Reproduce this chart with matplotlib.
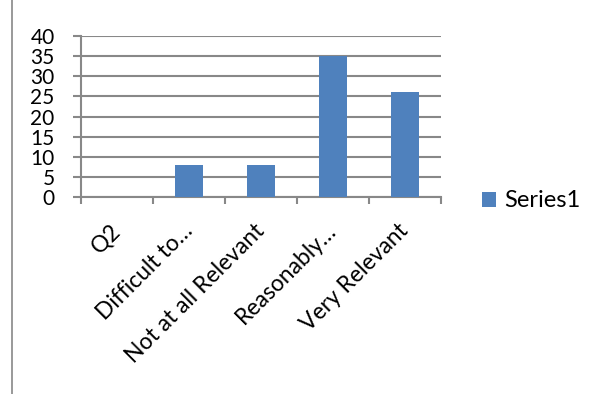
import numpy as np
import matplotlib.pyplot as plt
from matplotlib.lines import Line2D

categories = ['Q2', 'Difficult to…', 'Not at all Relevant', 'Reasonably…', 'Very Relevant']
values = [0, 8, 8, 35, 26]
series_name = 'Series1'

plt.rcParams['font.family'] = ['Lato', 'DejaVu Sans']

fig = plt.figure(figsize=(6.06, 3.94), dpi=100)
ax = fig.add_axes([0.1337, 0.5, 0.594, 0.4086])

x = np.arange(len(categories))
ax.bar(x, values, width=0.4, color='#4F81BD', label=series_name, zorder=3)

ax.set_xlim(-0.5, len(categories) - 0.5)
ax.set_ylim(0, 40)
ax.set_yticks(np.arange(0, 41, 5))
ax.yaxis.grid(True, color='#888888', linewidth=1.5)
ax.set_axisbelow(True)

# category labels at centres, tick marks at boundaries
ax.set_xticks(x)
ax.set_xticklabels(categories, rotation=45, ha='right', va='center', rotation_mode='anchor')
ax.tick_params(axis='x', which='major', length=0, pad=22, labelsize=16.5)
ax.set_xticks(np.arange(len(categories) + 1) - 0.5, minor=True)
ax.tick_params(axis='x', which='minor', length=5, color='#888888', width=1.5)
ax.tick_params(axis='y', length=6, color='#888888', width=1.5, labelsize=15, pad=13)

for s in ['top', 'right']:
    ax.spines[s].set_visible(False)
for s in ['left', 'bottom']:
    ax.spines[s].set_color('#888888')
    ax.spines[s].set_linewidth(1.5)

fig.legend(loc='center left', bbox_to_anchor=(0.76, 0.49), frameon=False,
           fontsize=17, handlelength=0.6, handleheight=0.6, handletextpad=0.35)

fig.add_artist(Line2D([12 / 606, 12 / 606], [0, 1], color='#888888', linewidth=1.2))

fig.savefig('out.png', dpi=100)
